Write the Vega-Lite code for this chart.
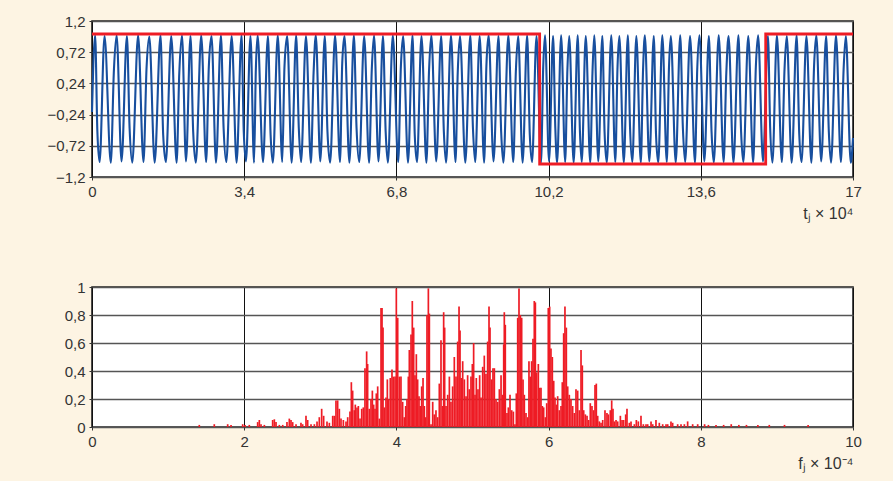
{
  "$schema": "https://vega.github.io/schema/vega-lite/v6.json",
  "background": "#fdf4e3",
  "padding": {"left": 46, "top": 13, "right": 30, "bottom": 10},
  "bounds": "flush",
  "spacing": 110,
  "datasets": {
    "signal": [
      {"t":0,"s":-0.2},{"t":0.07,"s":0.98},{"t":0.12,"s":-0.5},{"t":0.17,"s":-0.97},{"t":0.28,"s":0.97},{"t":0.42,"s":-0.98},{"t":0.49,"s":0.45},{"t":0.55,"s":0.98},{"t":0.66,"s":-0.96},{"t":0.78,"s":0.97},{"t":0.84,"s":-0.45},{"t":0.9,"s":-0.98},{"t":1.03,"s":0.98},{"t":1.15,"s":-0.97},{"t":1.22,"s":0.5},{"t":1.28,"s":0.96},{"t":1.4,"s":-0.98},{"t":1.53,"s":0.98},{"t":1.59,"s":-0.55},{"t":1.65,"s":-0.97},{"t":1.77,"s":0.97},{"t":1.89,"s":-0.98},{"t":1.95,"s":0.4},{"t":2.01,"s":0.98},{"t":2.1,"s":-0.96},{"t":2.2,"s":0.97},{"t":2.26,"s":-0.5},{"t":2.32,"s":-0.98},{"t":2.44,"s":0.98},{"t":2.55,"s":-0.97},{"t":2.61,"s":0.5},{"t":2.67,"s":0.97},{"t":2.77,"s":-0.98},{"t":2.88,"s":0.98},{"t":2.94,"s":-0.45},{"t":3.0,"s":-0.97},{"t":3.12,"s":0.97},{"t":3.23,"s":-0.98},{"t":3.34,"s":0.98},{"t":3.39,"s":-0.5},{"t":3.44,"s":-0.96},{"t":3.54,"s":0.97},{"t":3.62,"s":-0.98},{"t":3.66,"s":0.45},{"t":3.7,"s":0.98},{"t":3.82,"s":-0.97},{"t":3.93,"s":0.97},{"t":3.99,"s":-0.55},{"t":4.04,"s":-0.98},{"t":4.15,"s":0.98},{"t":4.25,"s":-0.97},{"t":4.3,"s":0.5},{"t":4.36,"s":0.97},{"t":4.46,"s":-0.98},{"t":4.56,"s":0.98},{"t":4.62,"s":-0.45},{"t":4.67,"s":-0.97},{"t":4.78,"s":0.97},{"t":4.89,"s":-0.98},{"t":4.95,"s":0.4},{"t":5.0,"s":0.98},{"t":5.1,"s":-0.96},{"t":5.2,"s":0.97},{"t":5.26,"s":-0.5},{"t":5.32,"s":-0.98},{"t":5.43,"s":0.98},{"t":5.54,"s":-0.97},{"t":5.59,"s":0.55},{"t":5.64,"s":0.97},{"t":5.75,"s":-0.98},{"t":5.85,"s":0.98},{"t":5.91,"s":-0.45},{"t":5.97,"s":-0.97},{"t":6.08,"s":0.97},{"t":6.19,"s":-0.98},{"t":6.25,"s":0.45},{"t":6.3,"s":0.98},{"t":6.4,"s":-0.96},{"t":6.5,"s":0.97},{"t":6.56,"s":-0.5},{"t":6.61,"s":-0.98},{"t":6.72,"s":0.98},{"t":6.84,"s":-0.97},{"t":6.9,"s":0.5},{"t":6.95,"s":0.97},{"t":7.06,"s":-0.98},{"t":7.16,"s":0.98},{"t":7.21,"s":-0.55},{"t":7.26,"s":-0.97},{"t":7.36,"s":0.97},{"t":7.47,"s":-0.98},{"t":7.53,"s":0.45},{"t":7.58,"s":0.98},{"t":7.69,"s":-0.96},{"t":7.8,"s":0.97},{"t":7.86,"s":-0.5},{"t":7.91,"s":-0.98},{"t":8.02,"s":0.98},{"t":8.12,"s":-0.97},{"t":8.17,"s":0.4},{"t":8.22,"s":0.97},{"t":8.34,"s":-0.98},{"t":8.45,"s":0.98},{"t":8.51,"s":-0.45},{"t":8.56,"s":-0.97},{"t":8.66,"s":0.97},{"t":8.76,"s":-0.98},{"t":8.81,"s":0.5},{"t":8.86,"s":0.98},{"t":8.97,"s":-0.96},{"t":9.08,"s":0.97},{"t":9.14,"s":-0.5},{"t":9.19,"s":-0.98},{"t":9.3,"s":0.98},{"t":9.41,"s":-0.97},{"t":9.47,"s":0.45},{"t":9.52,"s":0.97},{"t":9.62,"s":-0.98},{"t":9.72,"s":0.98},{"t":9.78,"s":-0.55},{"t":9.83,"s":-0.97},{"t":9.93,"s":0.97},{"t":10.03,"s":-0.98},{"t":10.08,"s":0.5},{"t":10.12,"s":0.98},{"t":10.21,"s":-0.96},{"t":10.3,"s":0.97},{"t":10.35,"s":-0.45},{"t":10.39,"s":-0.98},{"t":10.48,"s":0.98},{"t":10.57,"s":-0.97},{"t":10.62,"s":0.45},{"t":10.66,"s":0.97},{"t":10.76,"s":-0.98},{"t":10.85,"s":0.98},{"t":10.9,"s":-0.5},{"t":10.94,"s":-0.97},{"t":11.03,"s":0.97},{"t":11.13,"s":-0.98},{"t":11.18,"s":0.4},{"t":11.22,"s":0.98},{"t":11.31,"s":-0.96},{"t":11.4,"s":0.97},{"t":11.45,"s":-0.5},{"t":11.5,"s":-0.98},{"t":11.6,"s":0.98},{"t":11.69,"s":-0.97},{"t":11.74,"s":0.5},{"t":11.78,"s":0.97},{"t":11.88,"s":-0.98},{"t":11.97,"s":0.98},{"t":12.02,"s":-0.45},{"t":12.07,"s":-0.97},{"t":12.16,"s":0.97},{"t":12.26,"s":-0.98},{"t":12.31,"s":0.45},{"t":12.35,"s":0.98},{"t":12.45,"s":-0.96},{"t":12.55,"s":0.97},{"t":12.6,"s":-0.55},{"t":12.65,"s":-0.98},{"t":12.74,"s":0.98},{"t":12.84,"s":-0.97},{"t":12.89,"s":0.5},{"t":12.93,"s":0.97},{"t":13.04,"s":-0.98},{"t":13.14,"s":0.98},{"t":13.2,"s":-0.45},{"t":13.25,"s":-0.97},{"t":13.36,"s":0.97},{"t":13.47,"s":-0.98},{"t":13.52,"s":0.45},{"t":13.57,"s":0.98},{"t":13.68,"s":-0.96},{"t":13.78,"s":0.97},{"t":13.84,"s":-0.5},{"t":13.89,"s":-0.98},{"t":14.0,"s":0.98},{"t":14.11,"s":-0.97},{"t":14.17,"s":0.4},{"t":14.22,"s":0.97},{"t":14.33,"s":-0.98},{"t":14.44,"s":0.98},{"t":14.5,"s":-0.5},{"t":14.55,"s":-0.97},{"t":14.66,"s":0.97},{"t":14.77,"s":-0.98},{"t":14.83,"s":0.5},{"t":14.88,"s":0.98},{"t":14.99,"s":-0.96},{"t":15.1,"s":0.97},{"t":15.15,"s":-0.45},{"t":15.2,"s":-0.98},{"t":15.3,"s":0.98},{"t":15.41,"s":-0.97},{"t":15.47,"s":0.45},{"t":15.52,"s":0.97},{"t":15.63,"s":-0.98},{"t":15.74,"s":0.98},{"t":15.8,"s":-0.55},{"t":15.85,"s":-0.97},{"t":15.96,"s":0.97},{"t":16.07,"s":-0.98},{"t":16.13,"s":0.5},{"t":16.18,"s":0.98},{"t":16.29,"s":-0.96},{"t":16.4,"s":0.97},{"t":16.46,"s":-0.5},{"t":16.51,"s":-0.98},{"t":16.62,"s":0.98},{"t":16.73,"s":-0.97},{"t":16.79,"s":0.45},{"t":16.84,"s":0.97},{"t":16.95,"s":-0.98},{"t":17.0,"s":-0.6}
    ],
    "square": [
      {"t":0,"v":1},{"t":10.0,"v":-1},{"t":15.05,"v":1},{"t":17,"v":1}
    ],
    "spectrum": [
      {"f":1.41,"a":0.015},{"f":1.607,"a":0.02},{"f":1.783,"a":0.02},{"f":1.827,"a":0.015},{"f":1.98,"a":0.02},{"f":2.011,"a":0.015},{"f":2.067,"a":0.015},{"f":2.177,"a":0.035},{"f":2.199,"a":0.05},{"f":2.221,"a":0.02},{"f":2.265,"a":0.015},{"f":2.374,"a":0.05},{"f":2.396,"a":0.055},{"f":2.418,"a":0.035},{"f":2.462,"a":0.015},{"f":2.506,"a":0.015},{"f":2.562,"a":0.035},{"f":2.593,"a":0.06},{"f":2.615,"a":0.05},{"f":2.637,"a":0.035},{"f":2.681,"a":0.02},
      {"f":2.746,"a":0.03},{"f":2.768,"a":0.02},{"f":2.812,"a":0.08},{"f":2.834,"a":0.05},{"f":2.878,"a":0.02},{"f":2.922,"a":0.02},{"f":2.957,"a":0.04},{"f":2.987,"a":0.07},{"f":3.018,"a":0.13},{"f":3.044,"a":0.08},{"f":3.088,"a":0.04},{"f":3.119,"a":0.03},{"f":3.163,"a":0.08},{"f":3.184,"a":0.08},{"f":3.206,"a":0.19},{"f":3.228,"a":0.19},{"f":3.25,"a":0.13},{"f":3.272,"a":0.06},{"f":3.303,"a":0.05},{"f":3.338,"a":0.04},{"f":3.36,"a":0.07},{"f":3.39,"a":0.11},{"f":3.408,"a":0.32},{"f":3.425,"a":0.26},{"f":3.447,"a":0.12},{"f":3.46,"a":0.16},{"f":3.482,"a":0.14},{"f":3.5,"a":0.15},{"f":3.522,"a":0.06},{"f":3.544,"a":0.13},{"f":3.565,"a":0.14},{"f":3.587,"a":0.42},{"f":3.609,"a":0.54},{"f":3.622,"a":0.45},{"f":3.644,"a":0.13},{"f":3.666,"a":0.2},{"f":3.684,"a":0.26},{"f":3.701,"a":0.16},{"f":3.719,"a":0.13},{"f":3.736,"a":0.24},{"f":3.754,"a":0.29},{"f":3.776,"a":0.06},{"f":3.798,"a":0.85},{"f":3.811,"a":0.85},{"f":3.824,"a":0.71},{"f":3.841,"a":0.14},{"f":3.863,"a":0.21},{"f":3.881,"a":0.34},{"f":3.898,"a":0.2},{"f":3.92,"a":0.35},{"f":3.942,"a":0.41},{"f":3.96,"a":0.36},{"f":3.982,"a":0.36},{"f":3.999,"a":0.99},{"f":4.017,"a":0.78},{"f":4.039,"a":0.36},
      {"f":4.06,"a":0.36},{"f":4.082,"a":0.18},{"f":4.104,"a":0.07},{"f":4.122,"a":0.15},{"f":4.139,"a":0.2},{"f":4.157,"a":0.36},{"f":4.17,"a":0.55},{"f":4.192,"a":0.66},{"f":4.209,"a":0.9},{"f":4.227,"a":0.71},{"f":4.244,"a":0.37},{"f":4.262,"a":0.52},{"f":4.279,"a":0.34},{"f":4.297,"a":0.22},{"f":4.314,"a":0.15},{"f":4.332,"a":0.29},{"f":4.35,"a":0.35},{"f":4.367,"a":0.15},{"f":4.385,"a":0.07},{"f":4.402,"a":0.8},{"f":4.42,"a":0.99},{"f":4.433,"a":0.81},{"f":4.455,"a":0.02},{"f":4.477,"a":0.18},{"f":4.498,"a":0.09},{"f":4.52,"a":0.12},{"f":4.542,"a":0.07},{"f":4.564,"a":0.31},{"f":4.586,"a":0.62},{"f":4.608,"a":0.15},{"f":4.621,"a":0.82},{"f":4.634,"a":0.71},{"f":4.652,"a":0.15},{"f":4.674,"a":0.23},{"f":4.696,"a":0.36},{"f":4.717,"a":0.18},{"f":4.739,"a":0.29},{"f":4.761,"a":0.5},{"f":4.783,"a":0.36},{"f":4.805,"a":0.61},{"f":4.823,"a":0.86},{"f":4.836,"a":0.69},{"f":4.853,"a":0.35},{"f":4.871,"a":0.47},{"f":4.893,"a":0.34},{"f":4.915,"a":0.22},{"f":4.936,"a":0.37},{"f":4.958,"a":0.27},{"f":4.98,"a":0.36},{"f":4.998,"a":0.45},{"f":5.015,"a":0.6},{"f":5.033,"a":0.23},{"f":5.05,"a":0.35},{"f":5.072,"a":0.27},{"f":5.094,"a":0.37},{"f":5.112,"a":0.21},{"f":5.134,"a":0.43},{"f":5.155,"a":0.51},{"f":5.177,"a":0.38},{"f":5.199,"a":0.61},{"f":5.217,"a":0.86},{"f":5.23,"a":0.71},{"f":5.252,"a":0.34},{"f":5.269,"a":0.42},{"f":5.287,"a":0.42},{"f":5.309,"a":0.2},{"f":5.331,"a":0.18},{"f":5.353,"a":0.27},
      {"f":5.375,"a":0.37},{"f":5.396,"a":0.23},{"f":5.41,"a":0.59},{"f":5.418,"a":0.82},{"f":5.431,"a":0.73},{"f":5.453,"a":0.1},{"f":5.471,"a":0.14},{"f":5.493,"a":0.23},{"f":5.515,"a":0.12},{"f":5.537,"a":0.11},{"f":5.558,"a":0.02},{"f":5.576,"a":0.24},{"f":5.594,"a":0.78},{"f":5.611,"a":0.99},{"f":5.629,"a":0.8},{"f":5.646,"a":0.78},{"f":5.664,"a":0.34},{"f":5.681,"a":0.23},{"f":5.703,"a":0.1},{"f":5.725,"a":0.07},{"f":5.742,"a":0.47},{"f":5.76,"a":0.36},{"f":5.777,"a":0.47},{"f":5.795,"a":0.63},{"f":5.812,"a":0.9},{"f":5.826,"a":0.89},{"f":5.843,"a":0.39},{"f":5.865,"a":0.45},{"f":5.883,"a":0.28},{"f":5.9,"a":0.28},{"f":5.918,"a":0.15},{"f":5.935,"a":0.14},{"f":5.957,"a":0.07},{"f":5.975,"a":0.17},{"f":5.996,"a":0.85},{"f":6.014,"a":0.86},{"f":6.031,"a":0.56},{"f":6.049,"a":0.5},{"f":6.067,"a":0.33},{"f":6.084,"a":0.21},{"f":6.102,"a":0.16},{"f":6.119,"a":0.22},{"f":6.141,"a":0.12},{"f":6.163,"a":0.15},{"f":6.18,"a":0.32},{"f":6.198,"a":0.67},{"f":6.215,"a":0.86},{"f":6.233,"a":0.71},{"f":6.251,"a":0.29},{"f":6.272,"a":0.23},{"f":6.294,"a":0.2},{"f":6.316,"a":0.15},{"f":6.338,"a":0.1},{"f":6.36,"a":0.27},{"f":6.382,"a":0.26},{"f":6.404,"a":0.12},{"f":6.426,"a":0.55},{"f":6.443,"a":0.44},{"f":6.461,"a":0.12},{"f":6.483,"a":0.09},{"f":6.505,"a":0.08},{"f":6.526,"a":0.05},{"f":6.548,"a":0.17},{"f":6.57,"a":0.15},{"f":6.592,"a":0.12},{"f":6.61,"a":0.3},{"f":6.627,"a":0.31},{"f":6.645,"a":0.08},{"f":6.667,"a":0.04},
      {"f":6.689,"a":0.03},{"f":6.711,"a":0.05},{"f":6.741,"a":0.12},{"f":6.767,"a":0.1},{"f":6.785,"a":0.09},{"f":6.811,"a":0.12},{"f":6.829,"a":0.19},{"f":6.846,"a":0.13},{"f":6.864,"a":0.04},{"f":6.886,"a":0.05},{"f":6.908,"a":0.04},{"f":6.943,"a":0.08},{"f":6.965,"a":0.05},{"f":6.986,"a":0.05},{"f":7.013,"a":0.09},{"f":7.03,"a":0.13},{"f":7.061,"a":0.03},{"f":7.083,"a":0.04},{"f":7.127,"a":0.02},{"f":7.153,"a":0.05},{"f":7.179,"a":0.04},{"f":7.214,"a":0.08},{"f":7.245,"a":0.02},{"f":7.28,"a":0.02},{"f":7.302,"a":0.02},{"f":7.346,"a":0.04},{"f":7.368,"a":0.02},{"f":7.411,"a":0.05},{"f":7.455,"a":0.03},{"f":7.499,"a":0.02},{"f":7.543,"a":0.02},{"f":7.565,"a":0.02},{"f":7.608,"a":0.04},{"f":7.63,"a":0.03},{"f":7.696,"a":0.02},{"f":7.74,"a":0.02},{"f":7.784,"a":0.02},{"f":7.827,"a":0.04},{"f":7.893,"a":0.02},{"f":7.959,"a":0.02},
      {"f":8.05,"a":0.02},{"f":8.1,"a":0.015},{"f":8.2,"a":0.015},{"f":8.3,"a":0.015},{"f":8.4,"a":0.02},{"f":8.5,"a":0.015},{"f":8.6,"a":0.015},{"f":8.75,"a":0.015},{"f":8.9,"a":0.015},{"f":9.1,"a":0.015},{"f":9.41,"a":0.015}
    ]
  },
  "vconcat": [
    {
      "width": 761,
      "height": 156,
      "layer": [
        {
          "data": {"name": "signal"},
          "mark": {"type": "line", "color": "#184f9e", "strokeWidth": 2.1, "interpolate": "monotone"},
          "encoding": {
            "x": {
              "field": "t", "type": "quantitative",
              "scale": {"domain": [0, 17], "nice": false, "zero": false},
              "axis": {
                "values": [0, 3.4, 6.8, 10.2, 13.6, 17],
                "tickCount": 10,
                "labelOverlap": false,
                "labelExpr": "replace(format(datum.value, '.1~f'), '.', ',')",
                "title": "tⱼ × 10⁴",
                "titleAnchor": "end",
                "titlePadding": 6
              }
            },
            "y": {
              "field": "s", "type": "quantitative",
              "scale": {"domain": [-1.2, 1.2], "nice": false, "zero": false},
              "axis": {
                "values": [-1.2, -0.72, -0.24, 0.24, 0.72, 1.2],
                "tickCount": 10,
                "labelOverlap": false,
                "labelExpr": "replace(format(datum.value, '.2~f'), '.', ',')",
                "title": null
              }
            }
          }
        },
        {
          "data": {"name": "square"},
          "mark": {"type": "line", "color": "#ee1c25", "strokeWidth": 2.8, "interpolate": "step-after"},
          "encoding": {
            "x": {"field": "t", "type": "quantitative"},
            "y": {"field": "v", "type": "quantitative"}
          }
        }
      ]
    },
    {
      "width": 761,
      "height": 140,
      "data": {"name": "spectrum"},
      "mark": {"type": "rule", "color": "#ee1c25", "strokeWidth": 1.7},
      "encoding": {
        "x": {
          "field": "f", "type": "quantitative",
          "scale": {"domain": [0, 10], "nice": false},
          "axis": {
            "values": [0, 2, 4, 6, 8, 10],
            "tickCount": 10,
            "labelOverlap": false,
            "labelExpr": "replace(format(datum.value, '.1~f'), '.', ',')",
            "title": "fⱼ × 10⁻⁴",
            "titleAnchor": "end",
            "titlePadding": 6
          }
        },
        "y": {
          "field": "a", "type": "quantitative",
          "scale": {"domain": [0, 1], "nice": false},
          "axis": {
            "values": [0, 0.2, 0.4, 0.6, 0.8, 1],
            "tickCount": 10,
            "labelOverlap": false,
            "labelExpr": "replace(format(datum.value, '.1~f'), '.', ',')",
            "title": null
          }
        },
        "y2": {"datum": 0}
      }
    }
  ],
  "config": {
    "view": {"fill": "white", "stroke": "#222", "strokeWidth": 1.6},
    "axis": {
      "labelFont": "Liberation Sans",
      "labelFontSize": 15,
      "labelColor": "#333",
      "titleFont": "Liberation Sans",
      "titleFontSize": 16,
      "titleFontWeight": "normal",
      "titleColor": "#333",
      "domain": false,
      "ticks": true,
      "tickColor": "#333",
      "tickSize": 3,
      "labelPadding": 4,
      "labelFlush": false,
      "labelOverlap": false,
      "grid": true,
      "gridOpacity": 1
    },
    "axisX": {"gridColor": "#111", "gridWidth": 1},
    "axisY": {"gridColor": "#555", "gridWidth": 1.4}
  }
}
